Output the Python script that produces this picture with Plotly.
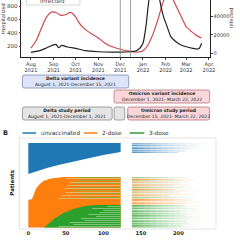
import plotly.graph_objects as go

# ---------------- Panel A data ----------------
hosp_dates = ['2021-08-01', '2021-08-08', '2021-08-15', '2021-08-22', '2021-08-29', '2021-09-05',
              '2021-09-10', '2021-09-17', '2021-09-24', '2021-10-01', '2021-10-05', '2021-10-12',
              '2021-10-22', '2021-11-01', '2021-11-08', '2021-11-14', '2021-11-25', '2021-12-05',
              '2021-12-15', '2021-12-25', '2022-01-01', '2022-01-08', '2022-01-15', '2022-01-22',
              '2022-01-29', '2022-02-04', '2022-02-10', '2022-02-17', '2022-02-24', '2022-03-01',
              '2022-03-08', '2022-03-15', '2022-03-22']
hosp_values = [170, 280, 460, 630, 710, 700, 665, 670, 705, 640, 560, 470, 390, 320, 260, 215, 170,
               140, 120, 110, 130, 220, 390, 620, 880, 1000, 920, 760, 600, 490, 420, 360, 320]

inf_dates = ['2021-08-01', '2021-08-08', '2021-08-15', '2021-08-22', '2021-08-29', '2021-09-04',
             '2021-09-08', '2021-09-12', '2021-09-20', '2021-10-01', '2021-10-14', '2021-11-01',
             '2021-11-20', '2021-12-01', '2021-12-15', '2021-12-22', '2021-12-28', '2022-01-01',
             '2022-01-05', '2022-01-08', '2022-01-12', '2022-01-16', '2022-01-20', '2022-01-24',
             '2022-01-29', '2022-02-03', '2022-02-08', '2022-02-15', '2022-02-22', '2022-03-01',
             '2022-03-10', '2022-03-16', '2022-03-19', '2022-03-22']
inf_values = [1000, 2000, 3500, 5800, 8200, 9700, 6000, 8600, 6800, 5400, 2800, 1700, 1300, 1300,
              1700, 2500, 5700, 10800, 28800, 50400, 75000, 85000, 76000, 57000, 39600, 28800,
              18000, 12500, 9000, 7100, 5400, 4600, 5400, 10800]

month_ticks = ['2021-08-01', '2021-09-01', '2021-10-01', '2021-11-01', '2021-12-01',
               '2022-01-01', '2022-02-01', '2022-03-01', '2022-04-01']
month_labels = ['Aug<br>2021', 'Sep<br>2021', 'Oct<br>2021', 'Nov<br>2021', 'Dec<br>2021',
                'Jan<br>2022', 'Feb<br>2022', 'Mar<br>2022', 'Apr<br>2022']
hosp_ticks = [200, 400, 600, 800]
inf_ticks = [0, 20000, 40000]
inf_tick_labels = ['0', '20000', '40000']
cutoff_dates = ['2021-12-01', '2021-12-15']

period_titles = ['Delta variant incidence', 'Omicron variant incidence',
                 'Delta study period', '', 'Omicron study period']
period_subtitles = ['August 1, 2021-December 15, 2021', 'December 1, 2021- March 22, 2022',
                    'August 1, 2021-December 1, 2021', '', 'December 15, 2021- March 22, 2022']
period_kind = ['delta', 'omicron', 'study', 'study', 'omicron']

# ---------------- Panel B data ----------------
status_names = ['unvaccinated', '2-dose', '3-dose']
status_colors = ['#1f77b4', '#ff7f0e', '#2ca02c']

day_ticks = [0, 50, 100, 150, 200]

blue_top_row = 860
blue_edge_days = [0, 10, 25, 40, 60, 80, 100, 123]
blue_edge_rows = [550, 575, 610, 640, 675, 710, 740, 770]

dose2_edge_days = [0, 5, 10, 14, 20, 30, 47, 123]
dose2_edge_rows = [290, 300, 400, 440, 480, 505, 520, 520]
dose2_bottom_row = 15

dose3_edge_days = [21, 28, 36, 47, 60, 75, 90, 123]
dose3_edge_rows = [15, 60, 110, 160, 200, 230, 240, 240]

left_end_day = 123
right_start_day = 138

mixed_rows = [295, 305, 315, 325, 335, 345, 355, 365, 375, 385, 395, 405,
              415, 425, 435, 445, 455, 465, 475, 485, 495, 505, 515]
mixed_kind = ['o', 't', 'g', 'o', 't', 'o', 'g', 't', 'o', 'g', 'o', 't',
              'g', 'o', 't', 'o', 'g', 't', 'o', 'g', 'o', 't', 'g']
mixed_left_start = [55, 40, 70, 60, 45, 80, 65, 50, 90, 58, 75, 48,
                    62, 85, 52, 70, 60, 55, 95, 66, 72, 50, 64]
mixed_right_end = [215, 198, 225, 205, 190, 220, 232, 200, 210, 228, 195, 218,
                   206, 224, 192, 212, 230, 202, 216, 208, 222, 196, 214]

band_rows = [245, 255, 265, 275, 285]
band_right_end = [226, 212, 232, 218, 222]

green_rows = [15, 25, 35, 45, 55, 65, 75, 85, 95, 105, 115, 125,
              135, 145, 155, 165, 175, 185, 195, 205, 215, 225, 235]
green_right_end = [218, 232, 205, 226, 214, 238, 210, 224, 200, 230, 216, 235,
                   208, 222, 212, 228, 204, 234, 219, 226, 211, 236, 207]
green_light_rows = [25, 45, 65, 85, 105, 125, 145, 165, 185, 205, 225]
green_light_start = [40, 60, 55, 75, 70, 90, 80, 95, 100, 85, 105]

blue_rows = [765, 775, 785, 795, 805, 815, 825, 835, 845, 855]
blue_right_end = [200, 212, 208, 225, 215, 232, 220, 235, 228, 238]

# per-row strength of the fading right-hand lines (streakiness)
row_strength = [1.0, 0.55, 0.85, 0.4, 0.95, 0.65, 0.3, 0.9, 0.5, 0.75]

fade_breaks = [138, 146, 154, 162, 170, 178, 186, 194, 202, 210, 220, 250]
fade_opacity = [0.75, 0.66, 0.57, 0.48, 0.4, 0.33, 0.26, 0.2, 0.15, 0.1, 0.06]

kind_color = {'o': '#ff7f0e', 't': '#d9a95a', 'g': '#6fb34f', 'b': '#1f77b4', 'G': '#2ca02c'}

# ---------------- helpers ----------------
W = H = 240.0
def X(px): return px / W
def Y(py): return 1 - py / H

fig = go.Figure()

# Panel A lines
fig.add_trace(go.Scatter(x=hosp_dates, y=hosp_values, mode='lines', name='Hospitalized',
                         line=dict(color='#d0484f', width=1.2, shape='spline', smoothing=0.6),
                         xaxis='x', yaxis='y', showlegend=False))
fig.add_trace(go.Scatter(x=inf_dates, y=inf_values, mode='lines', name='Infected',
                         line=dict(color='#222222', width=1.2, shape='spline', smoothing=0.6),
                         xaxis='x', yaxis='y2', showlegend=False))

# Panel B filled regions (left segment)
def poly(xs, ys, color, opacity=1.0):
    fig.add_trace(go.Scatter(x=xs, y=ys, fill='toself', fillcolor=color, mode='lines',
                             line=dict(width=0, color=color), opacity=opacity,
                             xaxis='x2', yaxis='y3', showlegend=False, hoverinfo='skip'))

bx = blue_edge_days + [left_end_day, 0]
by = blue_edge_rows + [blue_top_row, blue_top_row]
poly(bx, by, status_colors[0])

ox = dose2_edge_days + [left_end_day, 0]
oy = dose2_edge_rows + [dose2_bottom_row, dose2_bottom_row]
poly(ox, oy, status_colors[1])

gx = dose3_edge_days + [left_end_day, left_end_day]
gy = dose3_edge_rows + [240, dose3_edge_rows[0]]
poly(gx, gy, status_colors[2])

def seg_trace(xs, ys, color, opacity, width=1.0):
    fig.add_trace(go.Scatter(x=xs, y=ys, mode='lines', line=dict(color=color, width=width),
                             opacity=opacity, xaxis='x2', yaxis='y3', showlegend=False,
                             hoverinfo='skip'))

# mixed stripes overlay (left)
for k, col, op in [('t', '#e6c07a', 0.85), ('g', '#7fae45', 0.75)]:
    xs, ys = [], []
    for r, kd, s in zip(mixed_rows, mixed_kind, mixed_left_start):
        if kd == k:
            xs += [s, left_end_day, None]
            ys += [r, r, None]
    seg_trace(xs, ys, col, op)

# light stripes in green region
xs, ys = [], []
for r, s in zip(green_light_rows, green_light_start):
    xs += [s, left_end_day, None]
    ys += [r, r, None]
seg_trace(xs, ys, '#9fd696', 0.7)

# right segment fading lines
groups = []
for r, e in zip(blue_rows, blue_right_end):
    groups.append(('b', r, e))
for r, kd, e in zip(mixed_rows, mixed_kind, mixed_right_end):
    groups.append((kd, r, e))
for r, e in zip(band_rows, band_right_end):
    groups.append(('o', r, e))
for r, e in zip(green_rows, green_right_end):
    groups.append(('G', r, e))

n_str = len(row_strength)
for kd in ['b', 'o', 't', 'g', 'G']:
    for si in range(n_str):
        for li in range(len(fade_opacity)):
            a, b = fade_breaks[li], fade_breaks[li + 1]
            xs, ys = [], []
            for gi, (k2, r, e) in enumerate(groups):
                if k2 != kd or gi % n_str != si:
                    continue
                lo, hi = max(a, right_start_day), min(b, e)
                if hi > lo:
                    xs += [lo, hi, None]
                    ys += [r, r, None]
            if xs:
                seg_trace(xs, ys, kind_color[kd], fade_opacity[li] * row_strength[si], 1.0)

# ---------------- layout ----------------
shapes = []
annotations = []

def note(x, y, text, size, color='#333', angle=0, xanchor='center'):
    annotations.append(dict(x=x, y=y, xref='paper', yref='paper', text=text, showarrow=False,
                            xanchor=xanchor, yanchor='middle', textangle=angle,
                            font=dict(size=size, color=color, family='DejaVu Sans')))

# cutoff lines
for d in cutoff_dates:
    shapes.append(dict(type='line', xref='x', yref='paper', x0=d, x1=d, y0=Y(57), y1=1,
                       line=dict(color='#888888', width=0.8)))

# cut-off legend box at top
shapes.append(dict(type='rect', xref='paper', yref='paper', x0=X(27), x1=X(82), y0=Y(5), y1=Y(-6),
                   line=dict(color='#cccccc', width=0.8), fillcolor='white'))
note(X(54), Y(0), 'Infected', 6, '#555')

def rbox(x0, x1, y0, y1, fill, edge, r=2.0):
    p = (f"M {X(x0+r)},{Y(y0)} L {X(x1-r)},{Y(y0)} Q {X(x1)},{Y(y0)} {X(x1)},{Y(y0+r)} "
         f"L {X(x1)},{Y(y1-r)} Q {X(x1)},{Y(y1)} {X(x1-r)},{Y(y1)} "
         f"L {X(x0+r)},{Y(y1)} Q {X(x0)},{Y(y1)} {X(x0)},{Y(y1-r)} "
         f"L {X(x0)},{Y(y0+r)} Q {X(x0)},{Y(y0)} {X(x0+r)},{Y(y0)} Z")
    shapes.append(dict(type='path', xref='paper', yref='paper', path=p, fillcolor=fill,
                       line=dict(color=edge, width=0.8)))

box_px = [(23, 132, 75, 88), (117, 215, 90, 103), (23, 115, 107, 120), (117, 128, 107, 120),
          (131, 215, 107, 120)]
kind_style = {'delta': ('#dde4f7', '#7d8cb0'), 'omicron': ('#f8d6d9', '#b8737c'),
              'study': ('#e4e4e4', '#8a8a8a')}
for (x0, x1, y0, y1), t, s, kd in zip(box_px, period_titles, period_subtitles, period_kind):
    fill, edge = kind_style[kd]
    rbox(x0, x1, y0, y1, fill, edge)
    if t:
        note(X((x0 + x1) / 2), Y((y0 + y1) / 2), f'<b>{t}</b><br>{s}', 4.5, '#222')

# axis titles A
note(X(4), Y(18), 'Hospitalized', 5, '#333', angle=-90)
note(X(237), Y(18), 'Infected', 5, '#333', angle=-90)

# panel B label, title
note(X(6), Y(133), '<b>B</b>', 6.5, '#222')
note(X(12), Y(183), '<b>Patients</b>', 5.5, '#222', angle=-90)

# panel B legend
leg_px = [(23, 37, 40), (86, 100, 103), (133, 148, 151)]
for (a, b, tx), nm, c in zip(leg_px, status_names, status_colors):
    shapes.append(dict(type='line', xref='paper', yref='paper', x0=X(a), x1=X(b), y0=Y(133), y1=Y(133),
                       line=dict(color=c, width=1.5)))
    note(X(tx), Y(133), nm, 5.8, '#333', xanchor='left')

# panel B frame
shapes.append(dict(type='rect', xref='paper', yref='paper', x0=X(19.8), x1=X(221.5), y0=Y(229), y1=Y(138),
                   line=dict(color='#dddddd', width=0.8), fillcolor='rgba(0,0,0,0)'))

fig.update_layout(
    width=240, height=240, margin=dict(l=0, r=0, t=0, b=0),
    paper_bgcolor='white', plot_bgcolor='white',
    font=dict(family='DejaVu Sans', color='#333'),
    showlegend=False,
    xaxis=dict(domain=[X(22), X(215)], type='date', range=['2021-07-19', '2022-04-02'],
               tickvals=month_ticks, ticktext=month_labels, tickfont=dict(size=5, color='#333'),
               ticks='outside', ticklen=2, tickwidth=0.6, showline=True, linecolor='#222', linewidth=0.8,
               showgrid=False, zeroline=False, anchor='y'),
    yaxis=dict(domain=[Y(57), 1], range=[35, 892], tickvals=hosp_ticks,
               tickfont=dict(size=5.5, color='#333'), ticks='outside', ticklen=2, tickwidth=0.6,
               showline=True, linecolor='#222', linewidth=0.8, showgrid=False, zeroline=False,
               anchor='x'),
    yaxis2=dict(overlaying='y', side='right', range=[-4000, 57600], tickvals=inf_ticks,
                ticktext=inf_tick_labels,
                tickfont=dict(size=5, color='#333'), ticks='outside', ticklen=2, tickwidth=0.6,
                showline=True, linecolor='#222', linewidth=0.8, showgrid=False, zeroline=False,
                anchor='x'),
    xaxis2=dict(domain=[X(19.8), X(221.5)], range=[-12, 250], tickvals=day_ticks,
                ticktext=[f'<b>{d}</b>' for d in day_ticks], tickfont=dict(size=5.2, color='#222'),
                ticks='', showline=False, showgrid=False, zeroline=False, anchor='y3'),
    yaxis3=dict(domain=[Y(229), Y(138)], range=[0, 910], showticklabels=False, ticks='',
                showline=False, showgrid=False, zeroline=False, anchor='x2'),
    shapes=shapes, annotations=annotations,
)

fig.write_html('out.html')
